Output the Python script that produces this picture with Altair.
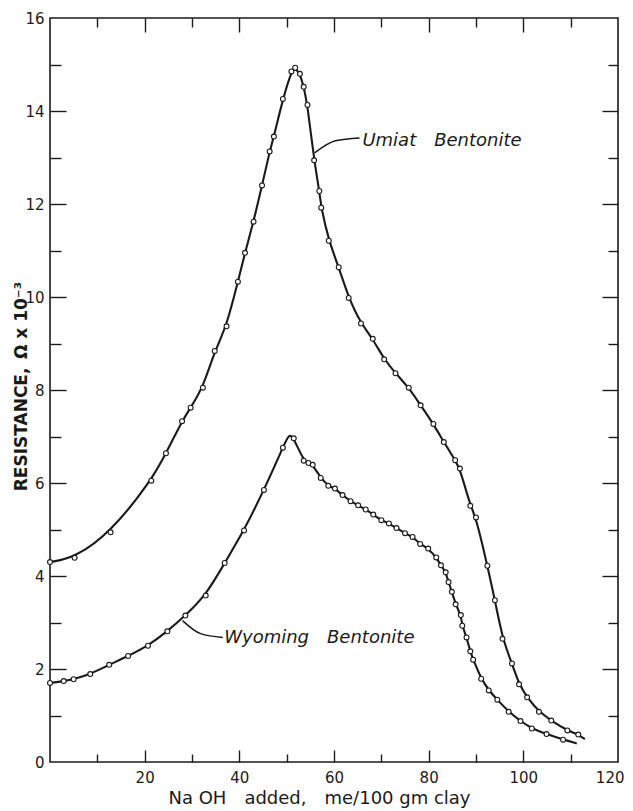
import altair as alt
import pandas as pd

# ---- data ----
umiat_x = [0, 5.2, 12.8, 21.4, 24.5, 27.9, 29.7, 32.3, 34.8, 37.3, 39.7, 41.2, 43.0, 44.8,
           46.4, 47.3, 49.2, 51.0, 51.8, 52.8, 53.6, 54.4, 55.8, 56.9, 57.3, 58.9, 61.0,
           63.1, 65.7, 68.2, 70.6, 73.0, 75.8, 78.3, 81.0, 83.2, 85.6, 86.6, 88.8, 90.0,
           92.4, 94.0, 95.6, 97.6, 99.1, 100.8, 103.3, 105.9, 109.3, 111.6]
umiat_y = [4.30, 4.39, 4.94, 6.05, 6.64, 7.33, 7.62, 8.05, 8.84, 9.37, 10.33, 10.95, 11.62,
           12.40, 13.13, 13.45, 14.26, 14.85, 14.93, 14.80, 14.52, 14.13, 12.94, 12.28, 11.92,
           11.21, 10.64, 9.98, 9.43, 9.10, 8.66, 8.36, 8.05, 7.67, 7.27, 6.88, 6.49, 6.31,
           5.51, 5.26, 4.22, 3.48, 2.65, 2.12, 1.67, 1.39, 1.08, 0.89, 0.68, 0.59]
umiat_curve_extra_x = [113.0]
umiat_curve_extra_y = [0.49]

wyoming_x = [0, 2.9, 5.0, 8.5, 12.5, 16.5, 20.7, 24.8, 28.6, 32.9, 36.9, 41.0, 45.2, 49.2,
             51.5, 53.6, 54.6, 55.5, 57.2, 58.8, 60.2, 61.8, 63.5, 65.1, 66.7, 68.3, 70.0,
             71.6, 73.2, 75.0, 76.6, 78.2, 79.9, 81.6, 82.6, 83.6, 84.2, 84.9, 85.7, 86.8,
             87.1, 88.0, 88.8, 89.4, 91.1, 92.7, 94.5, 96.9, 99.4, 101.8, 104.9, 108.4]
wyoming_y = [1.70, 1.74, 1.78, 1.89, 2.09, 2.28, 2.50, 2.81, 3.15, 3.58, 4.28, 4.98, 5.85,
             6.76, 6.96, 6.48, 6.43, 6.39, 6.11, 5.94, 5.88, 5.74, 5.61, 5.52, 5.43, 5.32,
             5.20, 5.13, 5.03, 4.92, 4.84, 4.69, 4.59, 4.40, 4.23, 4.08, 3.87, 3.66, 3.39,
             3.16, 2.93, 2.68, 2.38, 2.20, 1.79, 1.54, 1.34, 1.08, 0.88, 0.72, 0.60, 0.48]
wyoming_curve_extra_x = [50.5, 111.3]
wyoming_curve_extra_y = [7.07, 0.40]

label_text = ["Umiat\u2003Bentonite", "Wyoming\u2003Bentonite"]
label_x = [66.0, 36.8]
label_y = [13.36, 2.66]

umiat_leader_x = [55.9, 60.3, 65.4]
umiat_leader_y = [13.1, 13.36, 13.42]
wyoming_leader_x = [28.0, 31.8, 36.5]
wyoming_leader_y = [3.04, 2.76, 2.68]

x_label_values = [20, 40, 60, 80, 100, 120]
y_label_values = [0, 2, 4, 6, 8, 10, 12, 14, 16]
x_major_ticks = [20, 40, 60, 80, 100]
x_minor_ticks = [10, 30, 50, 70, 90, 110]
y_major_ticks = [2, 4, 6, 8, 10, 12, 14]
y_minor_ticks = [1, 3, 5, 7, 9, 11, 13, 15]

x_title = "Na OH\u2003added,\u2003me/100 gm clay"
y_title = "RESISTANCE,\u2002Ω x 10⁻³"

# ---- tables ----
pts = pd.concat([
    pd.DataFrame({"x": umiat_x, "y": umiat_y, "series": "Umiat"}),
    pd.DataFrame({"x": wyoming_x, "y": wyoming_y, "series": "Wyoming"}),
], ignore_index=True)
curve = pd.concat([
    pts,
    pd.DataFrame({"x": umiat_curve_extra_x, "y": umiat_curve_extra_y, "series": "Umiat"}),
    pd.DataFrame({"x": wyoming_curve_extra_x, "y": wyoming_curve_extra_y, "series": "Wyoming"}),
], ignore_index=True).sort_values(["series", "x"])
labels = pd.DataFrame({"x": label_x, "y": label_y, "text": label_text})
leader_u = pd.DataFrame({"x": umiat_leader_x, "y": umiat_leader_y})
leader_w = pd.DataFrame({"x": wyoming_leader_x, "y": wyoming_leader_y})

XS = alt.Scale(domain=[0, 120], nice=False, zero=False)
YS = alt.Scale(domain=[0, 16], nice=False, zero=False)
FONT = "DejaVu Sans"
INK = "#1a1a1a"


def tick_axis(orient, values, size):
    return alt.Axis(orient=orient, values=values, offset=-size, tickSize=size,
                    tickColor=INK, tickWidth=1.4, labels=False, domain=False,
                    grid=False, title=None)


x_label_axis = alt.Axis(orient="bottom", values=x_label_values, ticks=False, domain=False,
                        grid=False, labelFont=FONT, labelFontSize=15, labelColor=INK,
                        labelPadding=8, labelFlush=True, labelFlushOffset=6,
                        title=x_title, titleFont=FONT, titleFontSize=18,
                        titleFontWeight="normal", titleColor=INK, titleX=269, titleY=41,
                        titleAlign="center", titleBaseline="alphabetic")
y_label_axis = alt.Axis(orient="left", values=y_label_values, ticks=False, domain=False,
                        grid=False, labelFont=FONT, labelFontSize=15, labelColor=INK,
                        labelPadding=6, title=y_title, titleFont=FONT, titleFontSize=17,
                        titleFontWeight="bold", titleColor=INK, titleX=-29, titleY=368,
                        titleAngle=270, titleAlign="center", titleBaseline="middle")

lines = alt.Chart(curve).mark_line(interpolate="basis", color=INK, strokeWidth=2.1).encode(
    x=alt.X("x:Q", scale=XS, axis=x_label_axis),
    y=alt.Y("y:Q", scale=YS, axis=y_label_axis),
    detail="series:N",
)

points = alt.Chart(pts).mark_point(shape="circle", size=24, fill="white", fillOpacity=1,
                                   opacity=1, stroke=INK, strokeWidth=1.1).encode(
    x=alt.X("x:Q", scale=XS, axis=tick_axis("bottom", x_major_ticks, 12)),
    y=alt.Y("y:Q", scale=YS, axis=tick_axis("left", y_major_ticks, 16)),
)

texts = alt.Chart(labels).mark_text(align="left", baseline="middle", font=FONT,
                                    fontStyle="italic", fontSize=18, color=INK).encode(
    x=alt.X("x:Q", scale=XS, axis=tick_axis("bottom", x_minor_ticks, 8)),
    y=alt.Y("y:Q", scale=YS, axis=tick_axis("left", y_minor_ticks, 11)),
    text="text:N",
)

lead_u = alt.Chart(leader_u).mark_line(interpolate="monotone", color=INK, strokeWidth=1.5).encode(
    x=alt.X("x:Q", scale=XS, axis=tick_axis("top", x_major_ticks, 14)),
    y=alt.Y("y:Q", scale=YS, axis=tick_axis("right", y_major_ticks, 16)),
)

lead_w = alt.Chart(leader_w).mark_line(interpolate="monotone", color=INK, strokeWidth=1.5).encode(
    x=alt.X("x:Q", scale=XS, axis=tick_axis("top", x_minor_ticks, 9)),
    y=alt.Y("y:Q", scale=YS, axis=tick_axis("right", y_minor_ticks, 10)),
)

chart = alt.layer(lines, lead_u, lead_w, points, texts).resolve_axis(
    x="independent", y="independent"
).properties(
    width=568, height=744,
    autosize=alt.AutoSizeParams(type="none"),
    padding={"left": 42, "top": 10, "right": 7, "bottom": 48},
    background="white",
).configure_view(stroke=INK, strokeWidth=1.6)

chart.save("out.html", embed_options={"renderer": "svg", "actions": False})
